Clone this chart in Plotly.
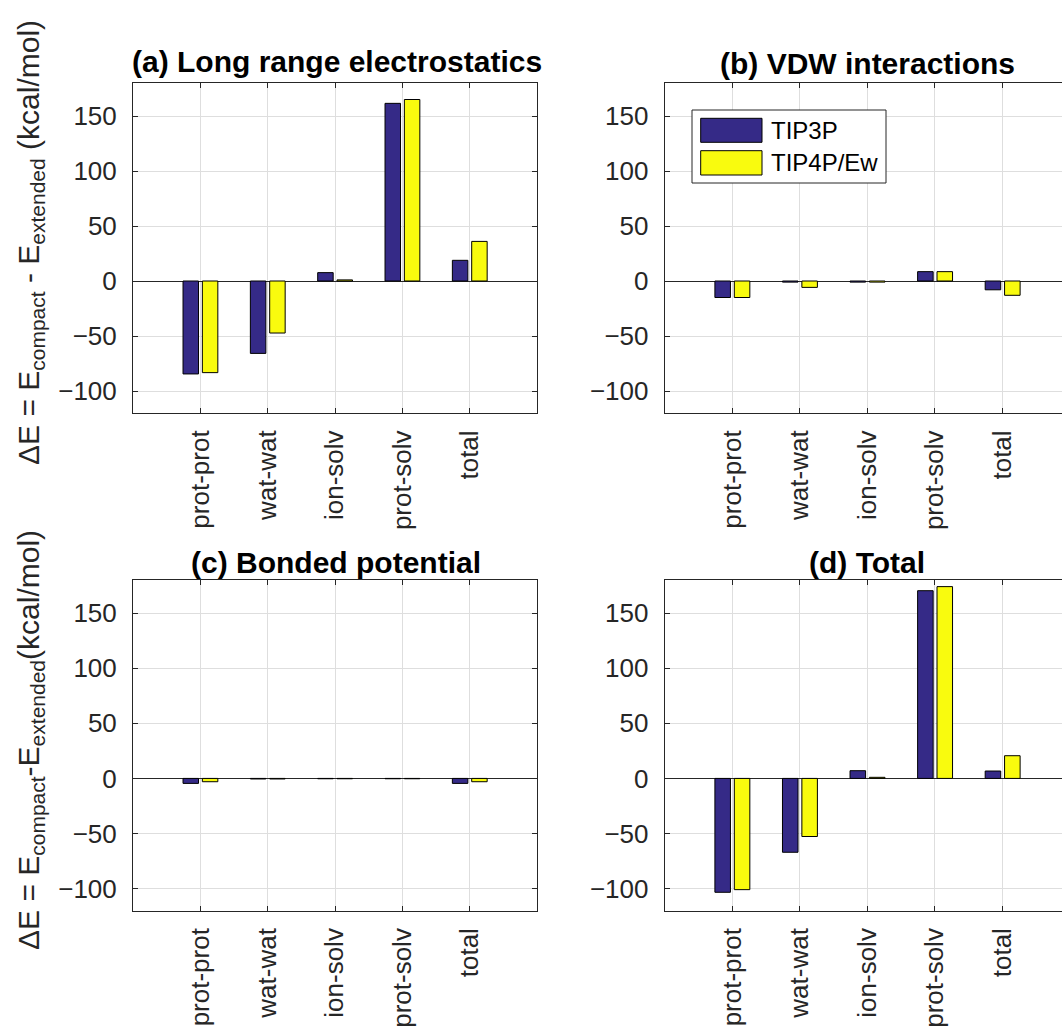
import plotly.graph_objects as go

W, H = 1062, 1027

categories = ["prot-prot", "wat-wat", "ion-solv", "prot-solv", "total"]
series_names = ["TIP3P", "TIP4P/Ew"]
series_colors = ["#352A87", "#F9FB0E"]

a_tip3p = [-84.5, -65.8, 7.6, 161.5, 18.8]
a_tip4p = [-83.3, -47.3, 1.0, 165.0, 36.0]
b_tip3p = [-15.0, -1.0, -1.0, 8.5, -8.0]
b_tip4p = [-15.0, -5.8, -1.0, 8.5, -13.0]
c_tip3p = [-4.5, -0.5, -0.3, -0.3, -4.5]
c_tip4p = [-3.0, -0.5, -0.3, -0.3, -3.0]
d_tip3p = [-103.3, -67.0, 7.0, 170.3, 6.7]
d_tip4p = [-100.9, -52.7, 1.0, 174.0, 20.6]

panel_titles = ["(a) Long range electrostatics", "(b) VDW interactions",
                "(c) Bonded potential", "(d) Total"]
y_ticks = [-100, -50, 0, 50, 100, 150]
y_range = [-120, 180]

FONT = "Liberation Sans, Arial, Helvetica, sans-serif"
AX = "#262626"
GRID = "#DEDEDE"


def px(x):
    return x / W


def py(y):
    return 1 - y / H


panels = [
    (a_tip3p, a_tip4p, [px(133), px(537)], [py(413), py(83)], [-1, 5], True),
    (b_tip3p, b_tip4p, [px(664.7), 1.0], [py(413), py(83)], [-1, 4.88], False),
    (c_tip3p, c_tip4p, [px(133), px(537)], [py(910.7), py(580)], [-1, 5], True),
    (d_tip3p, d_tip4p, [px(664.7), 1.0], [py(910.7), py(580)], [-1, 4.88], False),
]

fig = go.Figure()
layout = {}
offsets = [-0.257, 0.03]
for i, (s1, s2, xd, yd, xr, full) in enumerate(panels):
    n = "" if i == 0 else str(i + 1)
    for k, vals in enumerate([s1, s2]):
        fig.add_trace(go.Bar(
            x=categories, y=vals, name=series_names[k],
            xaxis="x" + n, yaxis="y" + n,
            width=0.23, offset=offsets[k],
            marker=dict(color=series_colors[k], line=dict(color="black", width=1)),
            showlegend=False,
        ))
    layout["xaxis" + n] = dict(
        domain=xd, anchor="y" + n, range=xr, type="category",
        showline=True, linecolor=AX, linewidth=1, mirror="ticks",
        ticks="inside", ticklen=5, tickcolor=AX,
        showgrid=True, gridcolor=GRID, gridwidth=1,
        tickangle=-90, ticklabelstandoff=6,
        tickfont=dict(family=FONT, size=26, color=AX),
    )
    layout["yaxis" + n] = dict(
        domain=yd, anchor="x" + n, range=y_range,
        tickvals=y_ticks,
        showline=True, linecolor=AX, linewidth=1,
        mirror="ticks" if full else False,
        ticks="inside", ticklen=5, tickcolor=AX,
        showgrid=True, gridcolor=GRID, gridwidth=1,
        zeroline=True, zerolinecolor=AX, zerolinewidth=1,
        ticklabelstandoff=10,
        tickfont=dict(family=FONT, size=26, color=AX),
    )

annotations = []
title_pos = [(337, 61), (867, 63), (336, 562), (867, 562)]
for t, (tx, ty) in zip(panel_titles, title_pos):
    annotations.append(dict(
        text="<b>" + t + "</b>", x=px(tx), y=py(ty), xref="paper", yref="paper",
        xanchor="center", yanchor="middle", showarrow=False,
        font=dict(family=FONT, size=30, color="black"),
    ))

ylab_top = "ΔE = E<sub>compact</sub> - E<sub>extended</sub> (kcal/mol)"
ylab_bot = "ΔE = E<sub>compact</sub>-E<sub>extended</sub>(kcal/mol)"
for txt, cy in [(ylab_top, 243), (ylab_bot, 740)]:
    annotations.append(dict(
        text=txt, x=px(30), y=py(cy), xref="paper", yref="paper",
        xanchor="center", yanchor="middle", textangle=-90, showarrow=False,
        font=dict(family=FONT, size=30, color=AX),
    ))

# legend (drawn in panel b)
shapes = [dict(type="rect", xref="paper", yref="paper",
               x0=px(692), x1=px(886), y0=py(183), y1=py(110),
               line=dict(color=AX, width=1), fillcolor="white", layer="above")]
for k, (y0, y1) in enumerate([(118.3, 142.3), (150.7, 175)]):
    shapes.append(dict(type="rect", xref="paper", yref="paper",
                       x0=px(700.7), x1=px(762), y0=py(y1), y1=py(y0),
                       line=dict(color="black", width=1),
                       fillcolor=series_colors[k], layer="above"))
    annotations.append(dict(
        text=series_names[k], x=px(769), y=py((y0 + y1) / 2),
        xref="paper", yref="paper", xanchor="left", yanchor="middle",
        showarrow=False, font=dict(family=FONT, size=24, color="black"),
    ))

fig.update_layout(
    width=W, height=H, autosize=False,
    margin=dict(l=0, r=0, t=0, b=0),
    paper_bgcolor="white", plot_bgcolor="white",
    barmode="group", showlegend=False,
    annotations=annotations, shapes=shapes,
    **layout,
)

fig.write_html("out.html")
